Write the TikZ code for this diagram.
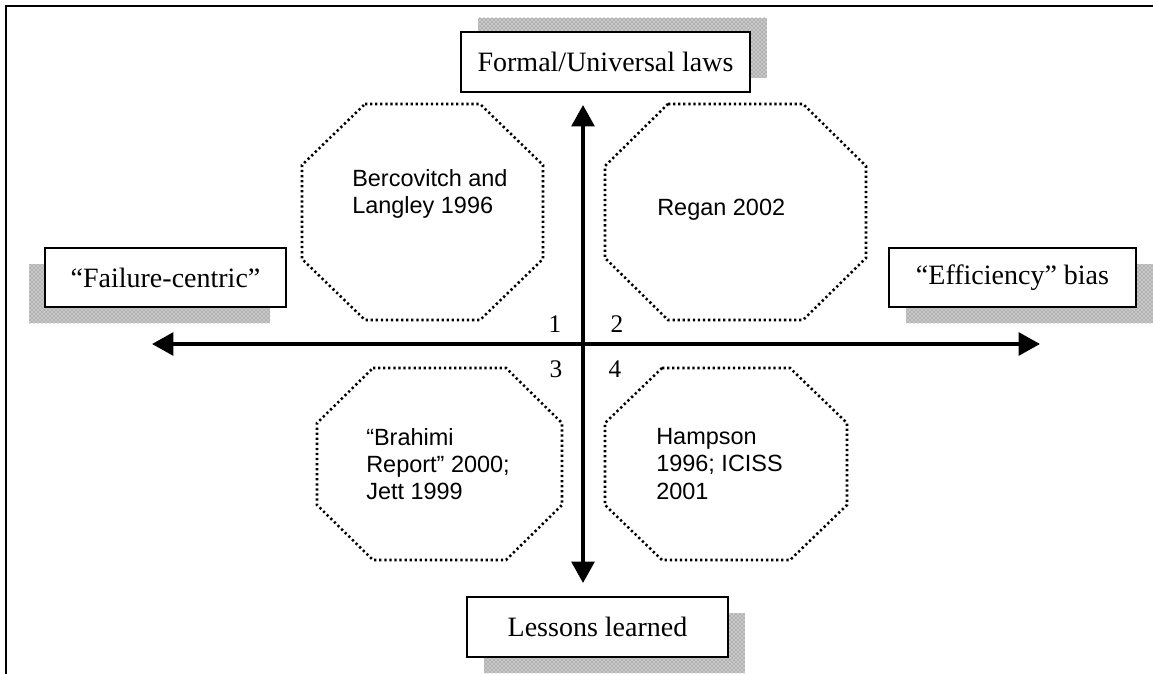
\documentclass[tikz,border=0pt]{standalone}
\usepackage{fontspec}
\setmainfont{Liberation Serif}
\newfontfamily\arialfont{Liberation Sans}
\usetikzlibrary{arrows.meta,shadows,patterns}

% octagon with chamfered corners: x1,y1,x2,y2, chamfer x, chamfer y
\newcommand\chamferbox[6]{%
  \draw[octline] ({#1+#5},#2) -- ({#3-#5},#2) -- (#3,{#2+#6}) -- (#3,{#4-#6})
    -- ({#3-#5},#4) -- ({#1+#5},#4) -- (#1,{#4-#6}) -- (#1,{#2+#6}) -- cycle;}

\tikzset{
  frameline/.style={line width=1.9pt},
  labelbox/.style={draw, line width=1.5pt, fill=white, inner sep=0pt,
    font=\fontsize{21}{25}\selectfont},
  grain/.style={opacity=1, fill=black!22,
    postaction={pattern=crosshatch dots, pattern color=black!55}},
  shadeDR/.style={drop shadow={grain, shadow xshift=12.75pt, shadow yshift=-12pt}},
  shadeDL/.style={drop shadow={grain, shadow xshift=-12pt, shadow yshift=-12pt}},
  shadeUR/.style={drop shadow={grain, shadow xshift=12.75pt, shadow yshift=10.5pt}},
  octline/.style={line width=1.9pt, dash pattern=on 1.7pt off 2.1pt},
  citetext/.style={font=\arialfont\fontsize{17.6}{20.3}\selectfont,
    align=left, anchor=west, inner sep=0pt},
  quadnum/.style={font=\fontsize{19}{22}\selectfont, inner sep=0pt},
  axis/.style={line width=2.8pt, {Triangle[length=16pt,width=17pt]}-{Triangle[length=16pt,width=17pt]}}
}

\begin{document}
\begin{tikzpicture}[x=0.75pt, y=-0.75pt]
\useasboundingbox (0,0) rectangle (1153,674);

% page frame (top and left rules)
\draw[frameline] (6,674) -- (6,6) -- (1153,6);

% quadrant octagons
\chamferbox{302}{104}{543}{320}{63}{61}
\chamferbox{605}{104}{866}{320}{63}{62}
\chamferbox{317}{368}{562}{560}{56}{55}
\chamferbox{605}{368}{847}{560}{57}{55}

% texts inside the octagons
\node[citetext] (c1) at (352,194) {Bercovitch and\\Langley 1996};
\node[citetext] (c2) at (657,210) {Regan 2002};
\node[citetext] (c3) at (366,464) {“Brahimi\\Report” 2000;\\Jett 1999};
\node[citetext] (c4) at (656,464) {Hampson\\1996; ICISS\\2001};

% axes
\coordinate (o) at (583,344);
\coordinate (up) at (583,105);
\coordinate (down) at (583,583);
\coordinate (left) at (152,344);
\coordinate (right) at (1040,344);
\draw[axis] (down) -- (up);
\draw[axis] (left) -- (right);

% quadrant numbers
\node[quadnum] (n1) at (555,324) {1};
\node[quadnum] (n2) at (617,324) {2};
\node[quadnum] (n3) at (556,369) {3};
\node[quadnum] (n4) at (615,369) {4};

% end labels of the axes
\node[labelbox, shadeUR, minimum width=216.75pt, minimum height=45pt]
  (top) at (605.5,62) {Formal/Universal laws};
\node[labelbox, shadeDL, minimum width=180.75pt, minimum height=44.25pt]
  (west) at (165.5,277.5) {“Failure-centric”};
\node[labelbox, shadeDR, minimum width=185.25pt, minimum height=44.25pt]
  (east) at (1012.5,277.5) {“Efficiency” bias};
\node[labelbox, shadeDR, minimum width=195.75pt, minimum height=45pt]
  (bottom) at (597.5,627) {Lessons learned};
\end{tikzpicture}
\end{document}
